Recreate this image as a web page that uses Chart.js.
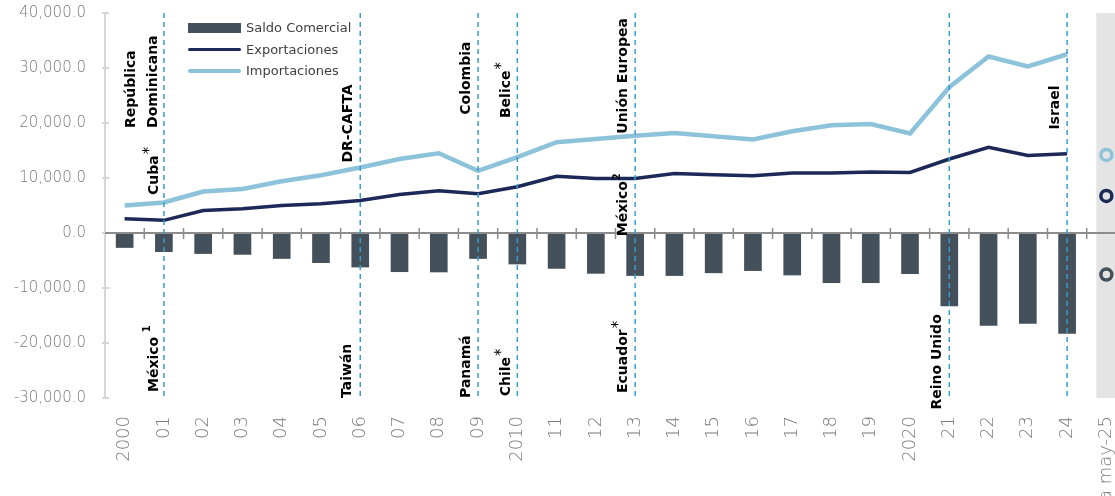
<!DOCTYPE html>
<html>
<head>
<meta charset="utf-8">
<script src="https://cdn.jsdelivr.net/npm/chart.js@4.4.1/dist/chart.umd.min.js"></script>
<style>
  html, body { margin: 0; padding: 0; background: #fff; overflow: hidden; }
  #wrap { position: relative; width: 1115px; height: 496px; overflow: hidden; }
  #chart { position: absolute; left: 0; top: 0; }
  .legend { position: absolute; left: 188px; top: 17px; font: 13px "DejaVu Sans", sans-serif; color: #404040; }
  .legend div { height: 21.5px; display: flex; align-items: center; }
  .sw { width: 53px; margin-right: 5px; }
</style>
</head>
<body>
<div id="wrap">
  <canvas id="chart" width="1135" height="496" style="width:1135px;height:496px"></canvas>
  <div class="legend">
    <div><span class="sw" style="height:10px;background:#44515b"></span>Saldo Comercial</div>
    <div><span class="sw" style="height:3.5px;background:#1b2858;border-radius:2px"></span>Exportaciones</div>
    <div><span class="sw" style="height:4px;background:#8dc3da;border-radius:2px"></span>Importaciones</div>
  </div>
</div>
<script>
// años (el último es el acumulado parcial)
const labels = ['2000', '01', '02', '03', '04', '05', '06', '07', '08', '09',
  '2010', '11', '12', '13', '14', '15', '16', '17', '18', '19',
  '2020', '21', '22', '23', '24', 'a may-25'];

const importaciones = [5000, 5550, 7550, 8000, 9400, 10500, 11900, 13450, 14500, 11300,
  13800, 16500, 17100, 17700, 18200, 17600, 17000, 18500, 19600, 19800,
  18100, 26500, 32100, 30300, 32500];
const exportaciones = [2600, 2300, 4100, 4400, 5000, 5300, 5900, 7000, 7700, 7150,
  8400, 10300, 9900, 9900, 10800, 10600, 10400, 10900, 10900, 11100,
  11000, 13450, 15600, 14100, 14400];
const saldo = [-2700, -3450, -3800, -3950, -4700, -5450, -6250, -7100, -7150, -4700,
  -5700, -6500, -7400, -7800, -7800, -7300, -6900, -7700, -9100, -9100,
  -7450, -13300, -16850, -16500, -18300];

// ene-may 2025
const parcialImp = 14200;
const parcialExp = 6750;
const parcialSaldo = -7550;

const yTicks = [-30000, -20000, -10000, 0, 10000, 20000, 30000, 40000];

// tratados comerciales
const tratados = ['01', '06', '09', '2010', '13', '21', '24'];
const notas = [
  { t: 'República', s: '', cat: '01', v: 19100, dx: -33 },
  { t: 'Dominicana', s: '', cat: '01', v: 19100, dx: -11 },
  { t: 'Cuba', s: '*', cat: '01', v: 6900, dx: -10 },
  { t: 'México', s: ' 1', cat: '01', v: -28900, dx: -10 },
  { t: 'DR-CAFTA', s: '', cat: '06', v: 12800, dx: -12 },
  { t: 'Taiwán', s: '', cat: '06', v: -30000, dx: -13 },
  { t: 'Colombia', s: '', cat: '09', v: 21500, dx: -12 },
  { t: 'Panamá', s: '', cat: '09', v: -30000, dx: -12 },
  { t: 'Belice', s: '*', cat: '2010', v: 20900, dx: -11 },
  { t: 'Chile', s: '*', cat: '2010', v: -29700, dx: -11 },
  { t: 'Unión Europea', s: '', cat: '13', v: 18050, dx: -12 },
  { t: 'México', s: '2', cat: '13', v: -600, dx: -12 },
  { t: 'Ecuador', s: '*', cat: '13', v: -29100, dx: -12 },
  { t: 'Reino Unido', s: '', cat: '21', v: -32100, dx: -12 },
  { t: 'Israel', s: '', cat: '24', v: 18800, dx: -12 }
];

const serie = arr => labels.map((_, i) => (i < arr.length ? arr[i] : null));
const ultimo = v => labels.map((_, i) => (i === labels.length - 1 ? v : null));

const overlay = {
  id: 'overlay',
  afterDatasetsDraw(chart) {
    const { ctx, chartArea: a, scales: { x, y } } = chart;
    ctx.save();

    // eje y
    ctx.strokeStyle = '#d6d6d6';
    ctx.lineWidth = 2;
    ctx.beginPath();
    ctx.moveTo(a.left, y.getPixelForValue(yTicks[yTicks.length - 1]) - 1);
    ctx.lineTo(a.left, y.getPixelForValue(yTicks[0]) + 1);
    ctx.stroke();
    yTicks.forEach(v => {
      const py = y.getPixelForValue(v);
      ctx.beginPath();
      ctx.moveTo(a.left - 3, py);
      ctx.lineTo(a.left + 4, py);
      ctx.stroke();
    });

    // linea de cero con marcas
    const y0 = y.getPixelForValue(0);
    const half = (x.getPixelForValue(1) - x.getPixelForValue(0)) / 2;
    ctx.strokeStyle = '#8c8c8c';
    ctx.lineWidth = 2;
    ctx.beginPath();
    ctx.moveTo(a.left, y0);
    ctx.lineTo(chart.width, y0);
    ctx.stroke();
    ctx.lineWidth = 1.5;
    labels.forEach((_, i) => {
      const px = x.getPixelForValue(i) + half;
      ctx.beginPath();
      ctx.moveTo(px, y0 - 5);
      ctx.lineTo(px, y0 + 6);
      ctx.stroke();
    });

    // lineas punteadas de tratados
    ctx.strokeStyle = '#3a9ccb';
    ctx.lineWidth = 1.5;
    ctx.setLineDash([5, 4]);
    tratados.forEach(c => {
      const px = x.getPixelForValue(labels.indexOf(c));
      ctx.beginPath();
      ctx.moveTo(px, a.top);
      ctx.lineTo(px, a.bottom);
      ctx.stroke();
    });
    ctx.setLineDash([]);

    // etiquetas verticales
    ctx.fillStyle = '#000';
    ctx.textBaseline = 'middle';
    ctx.textAlign = 'left';
    notas.forEach(n => {
      const px = x.getPixelForValue(labels.indexOf(n.cat)) + n.dx;
      const py = y.getPixelForValue(n.v);
      ctx.save();
      ctx.translate(px, py);
      ctx.rotate(-Math.PI / 2);
      ctx.font = 'bold 14px "DejaVu Sans", sans-serif';
      ctx.fillText(n.t, 0, 0);
      if (n.s) {
        const w = ctx.measureText(n.t).width;
        ctx.font = (n.s === '*' ? '15px' : 'bold 10px') + ' "DejaVu Sans", sans-serif';
        ctx.fillText(n.s, w + 1, n.s === '*' ? -4 : -6);
      }
      ctx.restore();
    });

    ctx.restore();
  }
};

new Chart(document.getElementById('chart'), {
  data: {
    labels: labels,
    datasets: [
      {
        type: 'line', label: 'Importaciones ene-may', data: ultimo(parcialImp),
        showLine: false, pointRadius: 5.5, pointBorderWidth: 3.5,
        pointBorderColor: '#8dc3da', pointBackgroundColor: 'rgba(0,0,0,0)', order: 0
      },
      {
        type: 'line', label: 'Exportaciones ene-may', data: ultimo(parcialExp),
        showLine: false, pointRadius: 5.5, pointBorderWidth: 3.5,
        pointBorderColor: '#1b2858', pointBackgroundColor: 'rgba(0,0,0,0)', order: 0
      },
      {
        type: 'line', label: 'Saldo ene-may', data: ultimo(parcialSaldo),
        showLine: false, pointRadius: 5.5, pointBorderWidth: 3.5,
        pointBorderColor: '#44515b', pointBackgroundColor: 'rgba(0,0,0,0)', order: 0
      },
      {
        type: 'line', label: 'Exportaciones', data: serie(exportaciones),
        borderColor: '#1b2858', borderWidth: 3.5, pointRadius: 0, tension: 0, order: 2
      },
      {
        type: 'line', label: 'Importaciones', data: serie(importaciones),
        borderColor: '#8dc3da', borderWidth: 4.5, pointRadius: 0, tension: 0, order: 2
      },
      {
        type: 'bar', label: 'Saldo Comercial', data: serie(saldo),
        backgroundColor: '#44515b', barPercentage: 0.45, categoryPercentage: 1,
        grouped: false, order: 5
      },
      {
        type: 'bar', label: 'banda', data: ultimo([yTicks[0], yTicks[yTicks.length - 1]]),
        backgroundColor: '#e4e4e4', barPercentage: 0.51, categoryPercentage: 1,
        grouped: false, order: 10
      }
    ]
  },
  options: {
    responsive: false,
    animation: false,
    layout: { padding: { top: 13, left: 0, right: 0, bottom: 0 } },
    plugins: { legend: { display: false }, tooltip: { enabled: false } },
    scales: {
      x: {
        offset: true,
        grid: { display: false },
        border: { display: false },
        ticks: {
          autoSkip: false, minRotation: 90, maxRotation: 90, padding: 10,
          color: '#7a7a7a', font: { family: '"DejaVu Sans", sans-serif', size: 18, weight: '200' }
        },
        afterFit: s => { s.height = 98; s.paddingLeft = 0; s.paddingRight = 0; }
      },
      y: {
        min: yTicks[0], max: yTicks[yTicks.length - 1],
        grid: { display: false },
        border: { display: false },
        afterBuildTicks: s => { s.ticks = yTicks.map(v => ({ value: v })); },
        ticks: {
          padding: 11, color: '#7a7a7a',
          font: { family: '"DejaVu Sans", sans-serif', size: 15, weight: '200' },
          callback: v => v.toLocaleString('en-US', { minimumFractionDigits: 1, maximumFractionDigits: 1 })
        },
        afterFit: s => { s.width = 105; s.paddingTop = 0; s.paddingBottom = 0; }
      }
    }
  },
  plugins: [overlay]
});
</script>
</body>
</html>
